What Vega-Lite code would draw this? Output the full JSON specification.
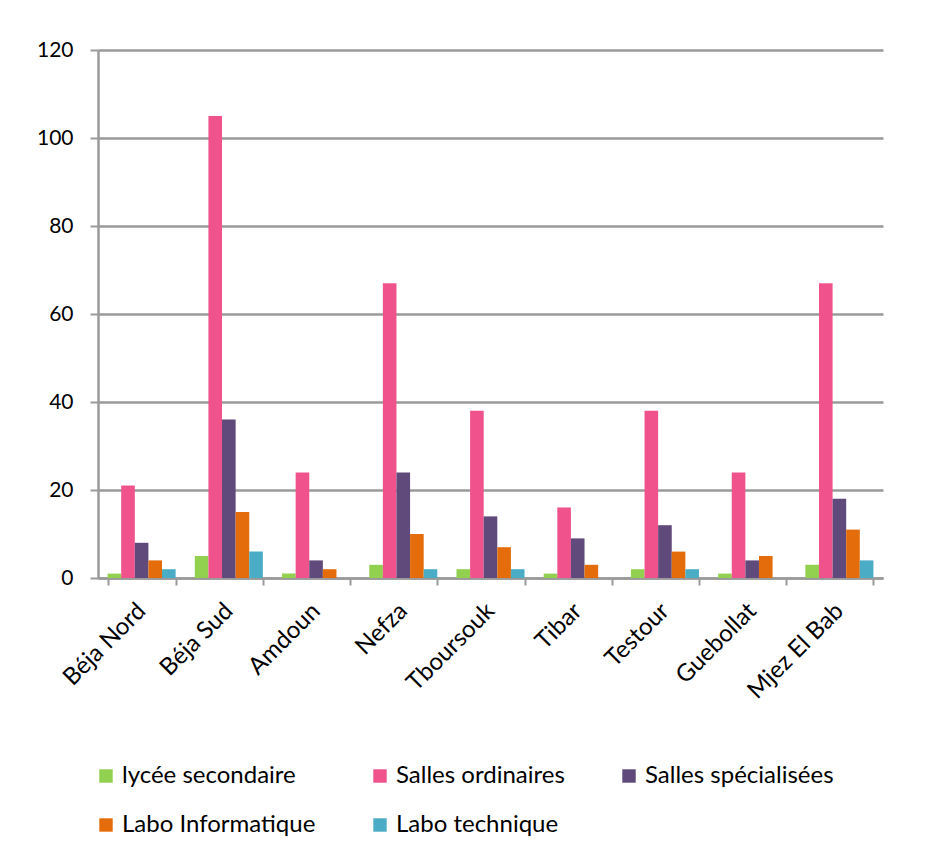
{
  "$schema": "https://vega.github.io/schema/vega-lite/v6.json",
  "width": 785,
  "height": 528,
  "autosize": {"type": "none"},
  "padding": {"left": 98, "top": 50, "right": 55, "bottom": 277},
  "background": "white",
  "config": {
    "view": {"stroke": null},
    "font": "Lato",
    "axis": {"labelFont": "Lato", "labelColor": "#000000"},
    "legend": {"labelFont": "Lato"}
  },
  "data": {
    "values": [
      {"ville": "Béja Nord", "serie": "lycée secondaire", "valeur": 1},
      {"ville": "Béja Nord", "serie": "Salles ordinaires", "valeur": 21},
      {"ville": "Béja Nord", "serie": "Salles spécialisées", "valeur": 8},
      {"ville": "Béja Nord", "serie": "Labo Informatique", "valeur": 4},
      {"ville": "Béja Nord", "serie": "Labo technique", "valeur": 2},
      {"ville": "Béja Sud", "serie": "lycée secondaire", "valeur": 5},
      {"ville": "Béja Sud", "serie": "Salles ordinaires", "valeur": 105},
      {"ville": "Béja Sud", "serie": "Salles spécialisées", "valeur": 36},
      {"ville": "Béja Sud", "serie": "Labo Informatique", "valeur": 15},
      {"ville": "Béja Sud", "serie": "Labo technique", "valeur": 6},
      {"ville": "Amdoun", "serie": "lycée secondaire", "valeur": 1},
      {"ville": "Amdoun", "serie": "Salles ordinaires", "valeur": 24},
      {"ville": "Amdoun", "serie": "Salles spécialisées", "valeur": 4},
      {"ville": "Amdoun", "serie": "Labo Informatique", "valeur": 2},
      {"ville": "Amdoun", "serie": "Labo technique", "valeur": 0},
      {"ville": "Nefza", "serie": "lycée secondaire", "valeur": 3},
      {"ville": "Nefza", "serie": "Salles ordinaires", "valeur": 67},
      {"ville": "Nefza", "serie": "Salles spécialisées", "valeur": 24},
      {"ville": "Nefza", "serie": "Labo Informatique", "valeur": 10},
      {"ville": "Nefza", "serie": "Labo technique", "valeur": 2},
      {"ville": "Tboursouk", "serie": "lycée secondaire", "valeur": 2},
      {"ville": "Tboursouk", "serie": "Salles ordinaires", "valeur": 38},
      {"ville": "Tboursouk", "serie": "Salles spécialisées", "valeur": 14},
      {"ville": "Tboursouk", "serie": "Labo Informatique", "valeur": 7},
      {"ville": "Tboursouk", "serie": "Labo technique", "valeur": 2},
      {"ville": "Tibar", "serie": "lycée secondaire", "valeur": 1},
      {"ville": "Tibar", "serie": "Salles ordinaires", "valeur": 16},
      {"ville": "Tibar", "serie": "Salles spécialisées", "valeur": 9},
      {"ville": "Tibar", "serie": "Labo Informatique", "valeur": 3},
      {"ville": "Tibar", "serie": "Labo technique", "valeur": 0},
      {"ville": "Testour", "serie": "lycée secondaire", "valeur": 2},
      {"ville": "Testour", "serie": "Salles ordinaires", "valeur": 38},
      {"ville": "Testour", "serie": "Salles spécialisées", "valeur": 12},
      {"ville": "Testour", "serie": "Labo Informatique", "valeur": 6},
      {"ville": "Testour", "serie": "Labo technique", "valeur": 2},
      {"ville": "Guebollat", "serie": "lycée secondaire", "valeur": 1},
      {"ville": "Guebollat", "serie": "Salles ordinaires", "valeur": 24},
      {"ville": "Guebollat", "serie": "Salles spécialisées", "valeur": 4},
      {"ville": "Guebollat", "serie": "Labo Informatique", "valeur": 5},
      {"ville": "Guebollat", "serie": "Labo technique", "valeur": 0},
      {"ville": "Mjez El Bab", "serie": "lycée secondaire", "valeur": 3},
      {"ville": "Mjez El Bab", "serie": "Salles ordinaires", "valeur": 67},
      {"ville": "Mjez El Bab", "serie": "Salles spécialisées", "valeur": 18},
      {"ville": "Mjez El Bab", "serie": "Labo Informatique", "valeur": 11},
      {"ville": "Mjez El Bab", "serie": "Labo technique", "valeur": 4}
    ]
  },
  "mark": {"type": "bar", "stroke": null},
  "encoding": {
    "x": {
      "field": "ville",
      "type": "nominal",
      "sort": null,
      "scale": {"paddingInner": 0.22, "paddingOuter": 0.11},
      "axis": {
        "title": null,
        "labelAngle": -45,
        "labelAlign": "right",
        "labelBaseline": "middle",
        "labelFontSize": 24,
        "labelPadding": 22,
        "domainColor": "#9a9a9a",
        "domainWidth": 2.5,
        "tickColor": "#9a9a9a",
        "tickWidth": 2,
        "tickSize": 7,
        "tickBand": "extent",
        "grid": false
      }
    },
    "xOffset": {
      "field": "serie",
      "type": "nominal",
      "scale": {
        "domain": ["lycée secondaire", "Salles ordinaires", "Salles spécialisées", "Labo Informatique", "Labo technique"],
        "paddingInner": 0,
        "paddingOuter": 0
      }
    },
    "y": {
      "field": "valeur",
      "type": "quantitative",
      "scale": {"domain": [0, 120], "nice": false},
      "axis": {
        "title": null,
        "values": [0, 20, 40, 60, 80, 100, 120],
        "labelFontSize": 21,
        "labelPadding": 17,
        "domainColor": "#9a9a9a",
        "domainWidth": 2.5,
        "tickColor": "#9a9a9a",
        "tickWidth": 2,
        "tickSize": 8,
        "gridColor": "#9a9a9a",
        "gridWidth": 2.5
      }
    },
    "color": {
      "field": "serie",
      "type": "nominal",
      "scale": {
        "domain": ["lycée secondaire", "Salles ordinaires", "Salles spécialisées", "Labo Informatique", "Labo technique"],
        "range": ["#92D050", "#F0528C", "#604A7B", "#E46C0A", "#4BACC6"]
      },
      "legend": {
        "title": null,
        "orient": "none",
        "legendX": -4,
        "legendY": 714,
        "direction": "horizontal",
        "columns": 3,
        "gridAlign": "each",
        "columnPadding": 52,
        "rowPadding": 25,
        "symbolType": "square",
        "symbolSize": 180,
        "symbolStrokeWidth": 0,
        "labelFontSize": 24,
        "labelOffset": 4,
        "labelLimit": 400,
        "labelColor": "#000000"
      }
    }
  }
}
